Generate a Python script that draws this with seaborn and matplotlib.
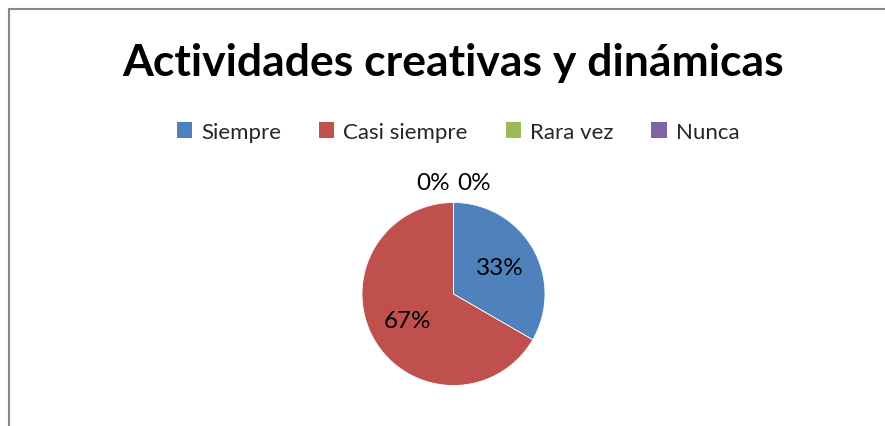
import numpy as np
import matplotlib.pyplot as plt
import seaborn as sns
from matplotlib.lines import Line2D
from matplotlib.patches import Patch

# data
categories = ["Siempre", "Casi siempre", "Rara vez", "Nunca"]
values = [1, 2, 0, 0]
colors = ["#4F81BD", "#C0504D", "#9BBB59", "#8064A2"]
title = "Actividades creativas y dinámicas"

sns.set_theme(style="white")
plt.rcParams["font.family"] = ["Lato", "DejaVu Sans"]

W, H = 885, 427
fig = plt.figure(figsize=(W / 100, H / 100), dpi=100)

# pie axes placed so the circle sits where it should
cx, cy, r = 453.5, 295, 91.5
ax = fig.add_axes([(cx - r) / W, (H - cy - r) / H, 2 * r / W, 2 * r / H])
pal = sns.color_palette(colors)
wedges, _ = ax.pie(values, colors=pal, startangle=90, counterclock=False,
                   radius=1, wedgeprops=dict(linewidth=0.6, edgecolor="white"))
ax.set_xlim(-1, 1)
ax.set_ylim(-1, 1)
ax.set_aspect("equal")
ax.axis("off")

# labels
total = sum(values)
zero_i = 0
for w, v in zip(wedges, values):
    pct = f"{round(100 * v / total)}%"
    if v > 0:
        ang = np.deg2rad((w.theta1 + w.theta2) / 2)
        ax.text(0.58 * np.cos(ang), 0.58 * np.sin(ang), pct, ha="center", va="center",
                fontsize=17.5, color="black")
    else:
        dx = -0.22 if zero_i == 0 else 0.22
        ax.text(dx, 1.22, pct, ha="center", va="center", fontsize=17.5,
                color="black", clip_on=False)
        zero_i += 1

fig.text(0.512, 1 - 63 / H, title, ha="center", va="center", fontsize=32,
         fontweight="bold", color="black")

handles = [Patch(facecolor=c, edgecolor="none") for c in pal]
fig.legend(handles, categories, loc="center", bbox_to_anchor=(458 / W, 1 - 133 / H),
           ncol=4, frameon=False, fontsize=16, handlelength=0.7, handleheight=0.7,
           handletextpad=0.4, columnspacing=1.7)

# chart border
fig.add_artist(Line2D([8.5 / W, 8.5 / W], [0, 1 - 10 / H], color="#888888", lw=1.5))
fig.add_artist(Line2D([8.5 / W, 1], [1 - 10 / H, 1 - 10 / H], color="#888888", lw=1.5))

fig.savefig("out.png", dpi=100)
